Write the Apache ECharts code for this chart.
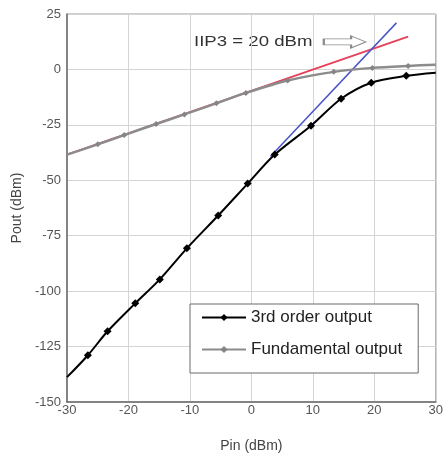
<!DOCTYPE html>
<html>
<head>
<meta charset="utf-8">
<script src="https://cdn.jsdelivr.net/npm/echarts@6/dist/echarts.min.js"></script>
<style>html,body{margin:0;padding:0;background:#fff;}#c{width:446px;height:458px;}</style>
</head>
<body>
<div id="c"></div>
<script>
// 3rd order output (Pin dBm, Pout dBm); first/last are curve ends without markers
const thirdPin  = [-30, -26.6, -23.4, -18.9, -14.9, -10.5, -5.4, -0.6, 3.8, 9.7, 14.6, 19.5, 25.2, 30];
const thirdPout = [-138.8, -128.9, -118.1, -105.5, -94.7, -80.7, -65.9, -51.5, -38.4, -25.4, -13.2, -6.0, -2.9, -1.5];
// Fundamental output
const fundPin  = [-30, -25.0, -20.7, -15.5, -10.9, -5.7, -0.9, 5.9, 13.4, 19.7, 25.5, 30];
const fundPout = [-38.4, -33.8, -29.6, -24.6, -20.3, -15.3, -10.6, -5.0, -1.1, 0.7, 1.6, 2.1];
// Extrapolation lines
const fundExtPin  = [-30, 25.5];
const fundExtPout = [-38.4, 14.8];
const thirdExtPin  = [3.1, 23.6];
const thirdExtPout = [-39.3, 21.0];
// Annotation
const iip3Label = 'IIP3 = 20 dBm';
const arrowAt = [15.2, 12.4];
const xTicks = {min: -30, max: 30, interval: 10};
const yTicks = {min: -150, max: 25, interval: 25};

function pts(xs, ys, ends) {
  return xs.map((x, i) => {
    const d = {value: [x, ys[i]]};
    if (ends && (i === 0 || i === xs.length - 1)) d.symbol = 'none';
    return d;
  });
}

const chart = echarts.init(document.getElementById('c'));
const font = 'Liberation Sans, Arial, sans-serif';
chart.setOption({
  animation: false,
  backgroundColor: '#fff',
  grid: {left: 67, right: 7, top: 14, bottom: 55, show: true, borderColor: '#9a9a9a', borderWidth: 1},
  xAxis: {
    type: 'value', min: xTicks.min, max: xTicks.max, interval: xTicks.interval,
    name: 'Pin (dBm)', nameLocation: 'middle', nameGap: 37,
    nameTextStyle: {fontFamily: font, fontSize: 14, color: '#444'},
    axisLine: {show: true, onZero: false, lineStyle: {color: '#6a6a6a', width: 1.5}},
    axisTick: {show: false},
    axisLabel: {fontFamily: font, fontSize: 13, color: '#555', margin: 2},
    splitLine: {show: true, lineStyle: {color: '#d4d4d4', width: 1}}
  },
  yAxis: {
    type: 'value', min: yTicks.min, max: yTicks.max, interval: yTicks.interval,
    name: 'Pout (dBm)', nameLocation: 'middle', nameGap: 38, nameRotate: 90,
    nameTextStyle: {fontFamily: font, fontSize: 14, color: '#444'},
    axisLine: {show: true, onZero: false, lineStyle: {color: '#6a6a6a', width: 1.5}},
    axisTick: {show: false},
    axisLabel: {fontFamily: font, fontSize: 13, color: '#555', margin: 6},
    splitLine: {show: true, lineStyle: {color: '#d4d4d4', width: 1}}
  },
  legend: {
    orient: 'vertical', left: 190, top: 304,
    data: ['3rd order output', 'Fundamental output'],
    backgroundColor: '#fff', borderColor: '#6a6a6a', borderWidth: 1,
    padding: [5, 16, 15, 11], itemGap: 15, itemWidth: 44, itemHeight: 9,
    textStyle: {fontFamily: font, fontSize: 17, color: '#222', lineHeight: 17}
  },
  graphic: [{
    type: 'text', left: 194, top: 34, scaleX: 1.2,
    style: {text: iip3Label, font: '15.5px ' + font, fill: '#333'}
  }],
  series: [
    {
      name: 'fundExt', type: 'line', data: pts(fundExtPin, fundExtPout, false),
      symbol: 'none', lineStyle: {color: '#e6405a', width: 1.8}, z: 2,
      markPoint: {
        data: [{
          coord: arrowAt,
          symbol: 'path://M0,3 L26,3 L26,0 L40,6 L26,12 L26,9 L0,9 Z',
          symbolSize: [42, 12],
          itemStyle: {color: '#fff', borderColor: '#8a8a8a', borderWidth: 1.2},
          label: {show: false}
        }]
      }
    },
    {
      name: 'thirdExt', type: 'line', data: pts(thirdExtPin, thirdExtPout, false),
      symbol: 'none', lineStyle: {color: '#4a56c8', width: 1.5}, z: 2
    },
    {
      name: 'Fundamental output', type: 'line', smooth: 0.3,
      data: pts(fundPin, fundPout, true),
      symbol: 'diamond', symbolSize: 6, showSymbol: true,
      lineStyle: {color: '#8c8c8c', width: 2.5},
      itemStyle: {color: '#858585'}, z: 3
    },
    {
      name: '3rd order output', type: 'line', smooth: 0.3,
      data: pts(thirdPin, thirdPout, true),
      symbol: 'diamond', symbolSize: 8, showSymbol: true,
      lineStyle: {color: '#000', width: 2},
      itemStyle: {color: '#000'}, z: 4
    }
  ]
});
</script>
</body>
</html>
